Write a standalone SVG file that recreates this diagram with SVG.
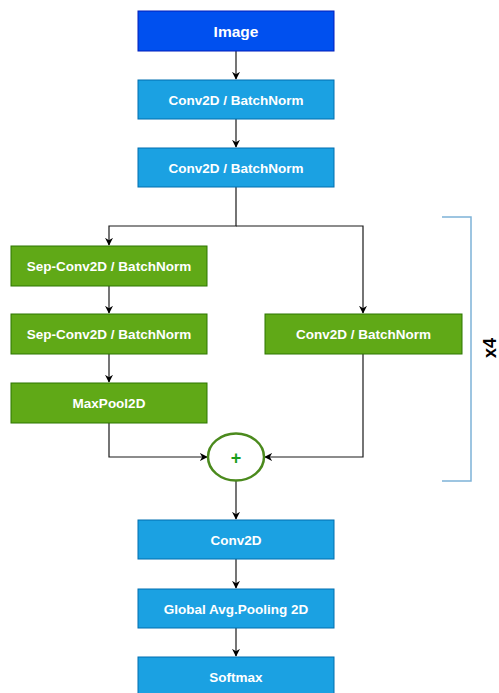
<svg xmlns="http://www.w3.org/2000/svg" width="499" height="693" viewBox="0 0 499 693">
<style>
.lbl{font-family:"Liberation Sans",Arial,Helvetica,sans-serif;font-weight:bold;fill:#ffffff;font-size:13.5px;text-anchor:middle}
.blue{fill:#1ba1e2;stroke:#006eaf;stroke-width:1}
.green{fill:#60a917;stroke:#2d7600;stroke-width:1}
.edge{fill:none;stroke:#1a1a1a;stroke-width:1.2}
</style>
<defs>
<marker id="arr" viewBox="0 0 10 10" refX="9" refY="5" markerWidth="8" markerHeight="8" markerUnits="userSpaceOnUse" orient="auto">
<path d="M0,0 L10,5 L0,10 L3,5 Z" fill="#000"/>
</marker>
</defs>
<rect width="499" height="693" fill="#ffffff"/>
<g id="connectors">
<line class="edge" x1="236" y1="51" x2="236" y2="79" marker-end="url(#arr)"/>
<line class="edge" x1="236" y1="119" x2="236" y2="147" marker-end="url(#arr)"/>
<polyline class="edge" points="236,187 236,226 109,226 109,245" marker-end="url(#arr)"/>
<polyline class="edge" points="236,226 363,226 363,313" marker-end="url(#arr)"/>
<line class="edge" x1="109" y1="286" x2="109" y2="313" marker-end="url(#arr)"/>
<line class="edge" x1="109" y1="354" x2="109" y2="382" marker-end="url(#arr)"/>
<polyline class="edge" points="109,423 109,457 207,457" marker-end="url(#arr)"/>
<polyline class="edge" points="363,354 363,457 265,457" marker-end="url(#arr)"/>
<line class="edge" x1="236" y1="481" x2="236" y2="519" marker-end="url(#arr)"/>
<line class="edge" x1="236" y1="559" x2="236" y2="588" marker-end="url(#arr)"/>
<line class="edge" x1="236" y1="628" x2="236" y2="656" marker-end="url(#arr)"/>
</g>
<g id="image">
<rect x="138" y="11" width="196" height="40" fill="#0050ef" stroke="#001dbc"/>
<text class="lbl" x="236" y="36.5" style="font-size:15.5px">Image</text>
</g>
<g id="conv1">
<rect class="blue" x="138" y="80" width="196" height="39"/>
<text class="lbl" x="236" y="104.5">Conv2D / BatchNorm</text>
</g>
<g id="conv2">
<rect class="blue" x="138" y="148" width="196" height="39"/>
<text class="lbl" x="236" y="172.5">Conv2D / BatchNorm</text>
</g>
<g id="sepconv1">
<rect class="green" x="11" y="246" width="196" height="40"/>
<text class="lbl" x="109" y="271">Sep-Conv2D / BatchNorm</text>
</g>
<g id="sepconv2">
<rect class="green" x="11" y="314" width="196" height="40"/>
<text class="lbl" x="109" y="339">Sep-Conv2D / BatchNorm</text>
</g>
<g id="maxpool">
<rect class="green" x="11" y="383" width="196" height="40"/>
<text class="lbl" x="109" y="408">MaxPool2D</text>
</g>
<g id="conv-skip">
<rect class="green" x="265" y="314" width="197" height="40"/>
<text class="lbl" x="363.5" y="339">Conv2D / BatchNorm</text>
</g>
<g id="add">
<ellipse cx="236" cy="457" rx="28" ry="23.5" fill="#ffffff" stroke="#4b8a1d" stroke-width="2.5"/>
<text x="236" y="463.5" text-anchor="middle" font-family="Liberation Sans, Arial, sans-serif" font-weight="bold" font-size="18" fill="#1a9e1a">+</text>
</g>
<g id="conv3">
<rect class="blue" x="138" y="520" width="196" height="39"/>
<text class="lbl" x="236" y="544.5">Conv2D</text>
</g>
<g id="gap">
<rect class="blue" x="138" y="589" width="196" height="39"/>
<text class="lbl" x="236" y="613.5">Global Avg.Pooling 2D</text>
</g>
<g id="softmax">
<rect class="blue" x="138" y="657" width="196" height="40"/>
<text class="lbl" x="236" y="682">Softmax</text>
</g>
<g id="repeat">
<polyline points="442,217 471,217 471,481 442,481" fill="none" stroke="#7eb3d8" stroke-width="1.5"/>
<text transform="translate(496,348) rotate(-90)" text-anchor="middle" font-family="Liberation Sans, Arial, sans-serif" font-weight="bold" font-size="18" fill="#000">x4</text>
</g>
</svg>
